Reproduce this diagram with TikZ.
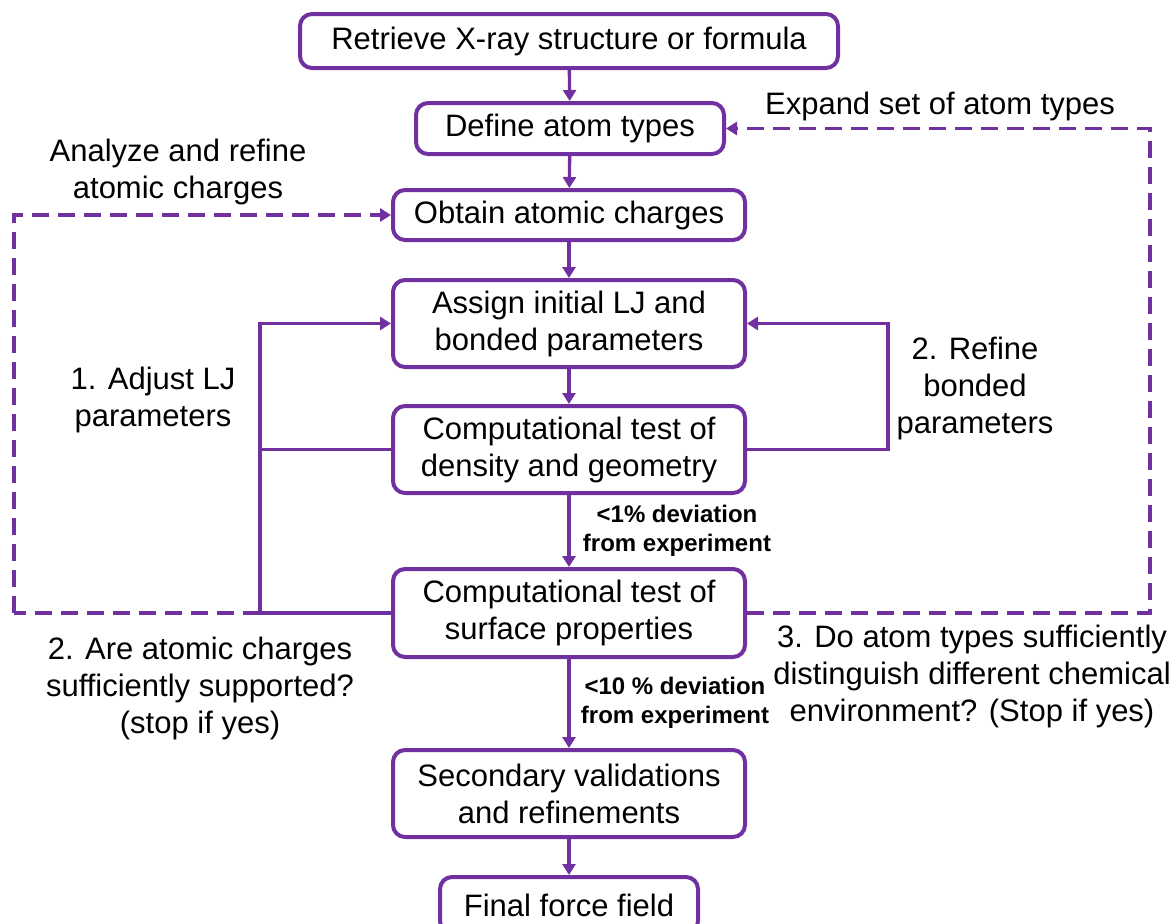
\documentclass[tikz,border=0pt]{standalone}
\usepackage{fontspec}
\setmainfont{Liberation Sans}
\usetikzlibrary{arrows.meta}
\definecolor{pur}{HTML}{7030A0}
\begin{document}
\begin{tikzpicture}[x=1pt,y=-1pt,
 box/.style={draw=pur, line width=4pt, rounded corners=12pt, fill=white, inner sep=0pt, align=center, font=\fontsize{31}{37}\selectfont},
 lbl/.style={align=center, inner sep=0pt, font=\fontsize{31}{37}\selectfont},
 blbl/.style={align=center, inner sep=0pt, font=\fontsize{24}{29}\selectfont\bfseries},
 conn/.style={draw=pur, line width=3.3pt, -{Triangle[length=11pt,width=13pt]}},
 plain/.style={draw=pur, line width=3.3pt},
 dsh/.style={draw=pur, line width=3.3pt, dash pattern=on 17pt off 9pt}]
\useasboundingbox (0,0) rectangle (1176,924);
\fill[white] (0,0) rectangle (1176,924);
\node[box, minimum width=538pt, minimum height=54pt] (b1) at (569,41) {Retrieve X-ray structure or formula};
\node[box, minimum width=308pt, minimum height=51pt] (b2) at (570,128.5) {Define atom types};
\node[box, minimum width=352pt, minimum height=50pt] (b3) at (569,215) {Obtain atomic charges};
\node[box, minimum width=352pt, minimum height=87pt] (b4) at (569,323.5) {Assign initial LJ and\\bonded parameters};
\node[box, minimum width=352pt, minimum height=87pt] (b5) at (569,449.5) {Computational test of\\density and geometry};
\node[box, minimum width=352pt, minimum height=88pt] (b6) at (569,613) {Computational test of\\surface properties};
\node[box, minimum width=352pt, minimum height=87pt] (b7) at (569,793.5) {Secondary validations\\and refinements};
\node[box, minimum width=258pt, minimum height=56pt] (b8) at (569,905) {Final force field};

\draw[conn] (b1) -- (b2);
\draw[conn] (b2) -- (b3);
\draw[conn] (b3) -- (b4);
\draw[conn] (b4) -- (b5);
\draw[conn] (b5) -- (b6);
\draw[conn] (b6) -- (b7);
\draw[conn] (b7) -- (b8);

\coordinate (L) at (260,613);
\coordinate (DL) at (14,613);
\coordinate (R) at (888,449.5);
\coordinate (DR) at (1150,613);

\draw[plain] (b6.west) -- (L);
\draw[plain] (b5.west) -- (b5.west -| L);
\draw[conn] (L) |- (b4.west);
\draw[dsh] (L) -- (DL);
\draw[dsh, -{Triangle[length=11pt,width=13pt]}] (DL) |- (b3.west);
\draw[conn] (b5.east) -- (R) |- (b4.east);
\draw[dsh, -{Triangle[length=11pt,width=13pt]}] (b6.east) -- (DR) |- (b2.east);

\node[lbl] (t1) at (940,106) {Expand set of atom types};
\node[lbl] (t2) at (178,172) {Analyze and refine\\atomic charges};
\node[lbl] (t3) at (153,400) {1. Adjust LJ\\parameters};
\node[lbl] (t4) at (975,388) {2. Refine\\bonded\\parameters};
\node[blbl] (t5) at (677,531) {<1\% deviation\\from experiment};
\node[blbl] (t6) at (675,703) {<10 \% deviation\\from experiment};
\node[lbl] (t7) at (200,688) {2. Are atomic charges\\sufficiently supported?\\(stop if yes)};
\node[lbl] (t8) at (972,676) {3. Do atom types sufficiently\\distinguish different chemical\\environment? (Stop if yes)};
\end{tikzpicture}
\end{document}
